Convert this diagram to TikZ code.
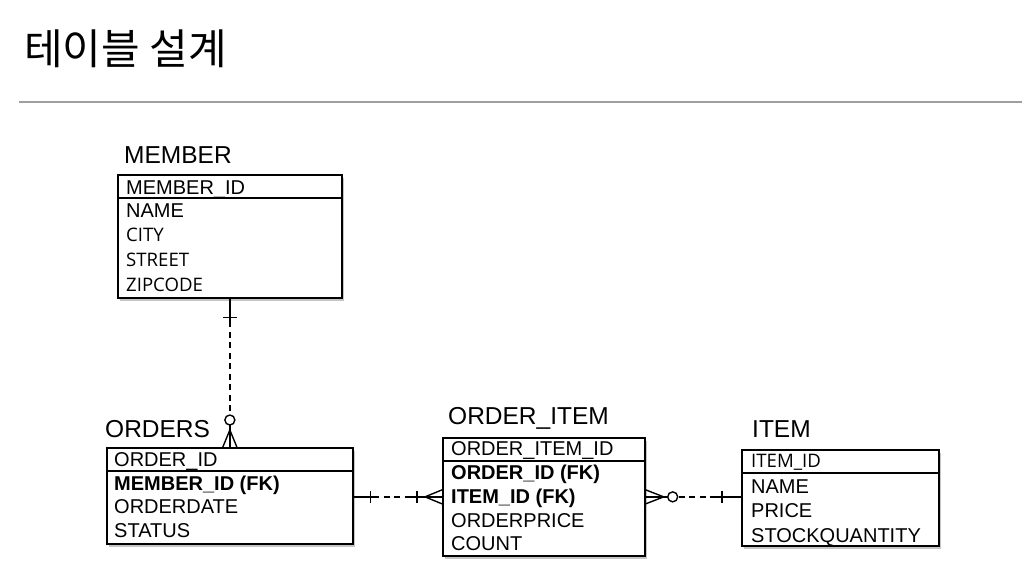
\documentclass[tikz,border=0pt]{standalone}
\usepackage{fontspec}
\setmainfont{Liberation Sans}
\newfontfamily\cjk{Noto Sans CJK KR}
\newfontfamily\opens{Open Sans}
\usetikzlibrary{calc,shadows}
\begin{document}
\begin{tikzpicture}[x=1pt,y=-1pt,
  tbl/.style={draw=black,line width=1.7pt,fill=white,anchor=north west,inner sep=0pt,
    drop shadow={shadow xshift=2.5pt,shadow yshift=-3pt,opacity=0.45}},
  hdr/.style={line width=1.6pt},
  lbl/.style={anchor=base west,inner sep=0pt,font=\fontsize{24.5}{28}\selectfont},
  row/.style={anchor=base west,inner sep=0pt,font=\fontsize{20}{24}\selectfont},
  rowo/.style={anchor=base west,inner sep=0pt,font=\opens\fontsize{18.6}{24}\selectfont},
  rowb/.style={anchor=base west,inner sep=0pt,font=\bfseries\fontsize{20}{24}\selectfont},
  rel/.style={line width=1.4pt},
  reldash/.style={line width=1.4pt,dash pattern=on 6pt off 4.5pt}
]
\useasboundingbox[fill=white] (0,0) rectangle (1036,566);

% title
\node[anchor=base west,inner sep=0pt,font=\cjk\fontsize{42}{48}\selectfont] (title) at (24,64) {테이블 설계};
\coordinate (ruleL) at (19,102);
\coordinate (ruleR) at (1022,102);
\draw[gray!75,line width=1.2pt] (ruleL) -- (ruleR);

% MEMBER
\node[lbl] (memberlbl) at (124,163) {MEMBER};
\node[tbl,minimum width=224pt,minimum height=123pt] (member) at (117,174) {};
\draw[hdr] ($(member.north west)+(0,24)$) -- ($(member.north east)+(0,24)$);
\node[row] (m1) at (126,194) {MEMBER\_ID};
\node[row] (m2) at (126,217) {NAME};
\node[rowo] (m3) at (126,241) {CITY};
\node[rowo] (m4) at (126,266) {STREET};
\node[rowo] (m5) at (126,291) {ZIPCODE};

% ORDERS
\node[lbl] (orderslbl) at (105,437) {ORDERS};
\node[tbl,minimum width=246pt,minimum height=96pt] (orders) at (106,447) {};
\draw[hdr] ($(orders.north west)+(0,24)$) -- ($(orders.north east)+(0,24)$);
\node[row] (o1) at (114,466) {ORDER\_ID};
\node[rowb] (o2) at (114,490) {MEMBER\_ID (FK)};
\node[row] (o3) at (114,513) {ORDERDATE};
\node[row] (o4) at (114,537) {STATUS};

% ORDER_ITEM
\node[lbl] (oilbl) at (448,424) {ORDER\_ITEM};
\node[tbl,minimum width=202pt,minimum height=118pt] (oi) at (442,437) {};
\draw[hdr] ($(oi.north west)+(0,24)$) -- ($(oi.north east)+(0,24)$);
\node[row] (i1) at (451,455) {ORDER\_ITEM\_ID};
\node[rowb] (i2) at (451,479) {ORDER\_ID (FK)};
\node[rowb] (i3) at (451,503) {ITEM\_ID (FK)};
\node[row] (i4) at (451,527) {ORDERPRICE};
\node[row] (i5) at (451,550) {COUNT};

% ITEM
\node[lbl] (itemlbl) at (752,437) {ITEM};
\node[tbl,minimum width=197pt,minimum height=96pt] (item) at (741,449) {};
\draw[hdr] ($(item.north west)+(0,24)$) -- ($(item.north east)+(0,24)$);
\node[rowo] (t1) at (751,467) {ITEM\_ID};
\node[row] (t2) at (751,493) {NAME};
\node[row] (t3) at (751,517) {PRICE};
\node[row] (t4) at (751,542) {STOCKQUANTITY};

% MEMBER -- ORDERS  (one, zero-or-many)
\coordinate (a1) at (member.south);
\coordinate (b1) at (member.south |- orders.north);
\draw[rel] (a1) -- ($(a1)+(0,28)$);
\draw[rel] ($(a1)+(-7,19)$) -- ($(a1)+(7,19)$);
\draw[reldash] ($(a1)+(0,33)$) -- ($(b1)+(0,-32)$);
\draw[rel] ($(b1)+(0,-27)$) circle (5);
\draw[rel] ($(b1)+(0,-22)$) -- (b1);
\draw[rel] ($(b1)+(-7,0)$) -- ($(b1)+(0,-17)$) -- ($(b1)+(7,0)$);

% ORDERS -- ORDER_ITEM (one, one-or-many)
\coordinate (a2) at (orders.east |- oi.west);
\coordinate (b2) at (oi.west);
\draw[rel] (a2) -- ($(a2)+(25,0)$);
\draw[rel] ($(a2)+(17,-6)$) -- ($(a2)+(17,6)$);
\draw[reldash] ($(a2)+(30,0)$) -- ($(b2)+(-35,0)$);
\draw[rel] ($(b2)+(-36,0)$) -- (b2);
\draw[rel] ($(b2)+(-25,-6)$) -- ($(b2)+(-25,6)$);
\draw[rel] ($(b2)+(0,-7)$) -- ($(b2)+(-17,0)$) -- ($(b2)+(0,7)$);

% ORDER_ITEM -- ITEM (zero-or-many, one)
\coordinate (a3) at (oi.east);
\coordinate (b3) at (oi.east -| item.west);
\draw[rel] ($(a3)+(0,-7)$) -- ($(a3)+(18,0)$) -- ($(a3)+(0,7)$);
\draw[rel] (a3) -- ($(a3)+(22,0)$);
\draw[rel] ($(a3)+(27,0)$) circle (5);
\draw[reldash] ($(a3)+(33,0)$) -- ($(b3)+(-24,0)$);
\draw[rel] ($(b3)+(-25,0)$) -- (b3);
\draw[rel] ($(b3)+(-19,-6)$) -- ($(b3)+(-19,6)$);
\end{tikzpicture}
\end{document}
